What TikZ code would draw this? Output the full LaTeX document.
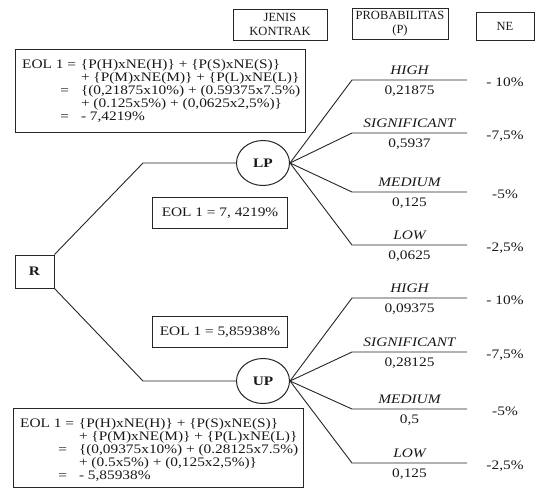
\documentclass[tikz,border=0pt]{standalone}
\usepackage{fontspec}
\usetikzlibrary{shapes.geometric}
\setmainfont{Liberation Serif}[FakeStretch=1.18]
\newfontfamily\headfont{Liberation Serif}
\newcommand{\bodysize}{\fontsize{13}{13}\selectfont}

\begin{document}
\begin{tikzpicture}[x=1pt,y=-1pt,
  every node/.style={font=\bodysize, inner sep=0pt, text=black!90},
  frame/.style={draw=black!85, line width=1pt},
  wire/.style={draw=black!85, line width=0.9pt},
  headbox/.style={frame, align=center, font=\headfont\fontsize{12.5}{14.5}\selectfont},
  decision/.style={frame, minimum width=39pt, minimum height=33pt, font=\bfseries\bodysize},
  chance/.style={frame, ellipse, minimum width=53pt, minimum height=45pt, font=\bfseries\bodysize},
  outcome/.style={anchor=base, font=\itshape\bodysize},
  probval/.style={anchor=base},
  neval/.style={anchor=base},
  calcbox/.style={frame, minimum width=290pt, anchor=north west},
  eolbox/.style={frame, minimum width=135pt, minimum height=31pt, anchor=north west}
]
\useasboundingbox (0,0) rectangle (540,488);
\fill[white] (0,0) rectangle (540,488);

% column headings
\node[headbox, minimum width=94pt, minimum height=31pt] (hJenis) at (280,24.5) {JENIS\\KONTRAK};
\node[headbox, minimum width=96pt, minimum height=31pt] (hProb) at (400,23.5) {PROBABILITAS\\(P)};
\node[headbox, minimum width=58pt, minimum height=28pt] (hNE) at (505,26) {NE};

% expected opportunity loss, LP contract
\node[calcbox, minimum height=83pt] (lpCalcBox) at (15,49) {};
\node[anchor=west] (lpCalc) at (22,92.2) {%
  \begin{tabular}{@{}r@{\hspace{5pt}}l@{}}
  EOL 1 = & \{P(H)xNE(H)\} + \{P(S)xNE(S)\}\\
          & + \{P(M)xNE(M)\} + \{P(L)xNE(L)\}\\
  =\hspace{7pt} & \{(0,21875x10\%) + (0.59375x7.5\%)\\
          & + (0.125x5\%) + (0,0625x2,5\%)\}\\
  =\hspace{7pt} & - 7,4219\%
  \end{tabular}};

% expected opportunity loss, UP contract
\node[calcbox, minimum height=79pt] (upCalcBox) at (13,408) {};
\node[anchor=west] (upCalc) at (20,451.2) {%
  \begin{tabular}{@{}r@{\hspace{5pt}}l@{}}
  EOL 1 = & \{P(H)xNE(H)\} + \{P(S)xNE(S)\}\\
          & + \{P(M)xNE(M)\} + \{P(L)xNE(L)\}\\
  =\hspace{7pt} & \{(0,09375x10\%) + (0.28125x7.5\%)\\
          & + (0.5x5\%) + (0,125x2,5\%)\}\\
  =\hspace{7pt} & - 5,85938\%
  \end{tabular}};

% decision and chance nodes
\node[decision] (R) at (34.5,271.5) {R};
\node[chance] (LP) at (263,163) {LP};
\node[chance] (UP) at (263,381) {UP};

\node[eolbox] (lpEOL) at (152,197) {EOL 1 = 7, 4219\%};
\node[eolbox] (upEOL) at (152,316) {EOL 1 = 5,85938\%};

\coordinate (lpBend) at (143,163);
\coordinate (upBend) at (143,381);
\draw[wire] (R.north east) -- (lpBend) -- (LP.west);
\draw[wire] (R.south east) -- (upBend) -- (UP.west);

% outcome branches of LP
\foreach \k/\y/\lab/\p/\ne in {
    H/80/HIGH/{0,21875}/{- 10\%},
    S/133/SIGNIFICANT/{0,5937}/{-7,5\%},
    M/192/MEDIUM/{0,125}/{-5\%},
    L/245/LOW/{0,0625}/{-2,5\%}} {
  \coordinate (lp\k a) at (352,\y);
  \coordinate (lp\k b) at (467,\y);
  \draw[wire] (LP.east) -- (lp\k a) -- (lp\k b);
  \node[outcome] (lp\k lab) at (409.5,\y-6) {\lab};
  \node[probval] (lp\k p) at (409.5,\y+14.5) {\p};
  \node[neval] (lp\k ne) at (505,\y+6) {\ne};
}

% outcome branches of UP
\foreach \k/\y/\lab/\p/\ne in {
    H/298/HIGH/{0,09375}/{- 10\%},
    S/352/SIGNIFICANT/{0,28125}/{-7,5\%},
    M/409/MEDIUM/{0,5}/{-5\%},
    L/463/LOW/{0,125}/{-2,5\%}} {
  \coordinate (up\k a) at (352,\y);
  \coordinate (up\k b) at (467,\y);
  \draw[wire] (UP.east) -- (up\k a) -- (up\k b);
  \node[outcome] (up\k lab) at (409.5,\y-6) {\lab};
  \node[probval] (up\k p) at (409.5,\y+14.5) {\p};
  \node[neval] (up\k ne) at (505,\y+6) {\ne};
}
\end{tikzpicture}
\end{document}
